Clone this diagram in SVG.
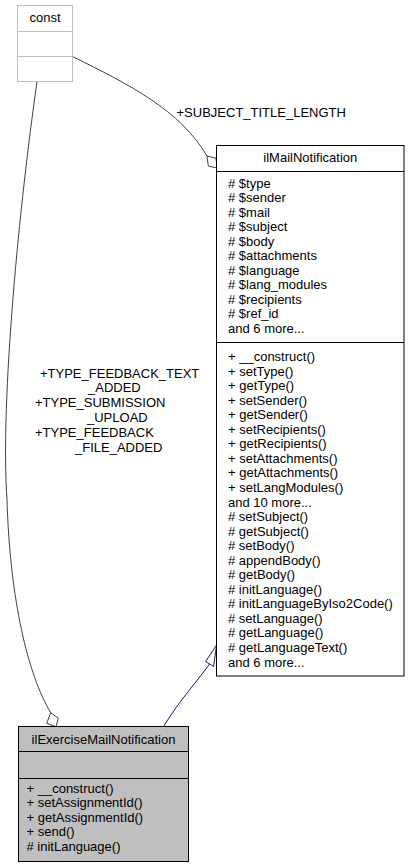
<svg xmlns="http://www.w3.org/2000/svg" width="409" height="868" viewBox="0 0 409 868">
<style>
text{font-family:"Liberation Sans",Arial,Helvetica,sans-serif;font-size:13px;fill:#000}
.c{text-anchor:middle}
.box{fill:#fff;stroke:#000;stroke-width:1}
.gbox{fill:#bfbfbf;stroke:#000;stroke-width:1}
.lbox{fill:#fff;stroke:#bfbfbf;stroke-width:1}
.edge{fill:none;stroke:#404040;stroke-width:1}
.inh{fill:none;stroke:#191970;stroke-width:1}
</style>
<rect width="409" height="868" fill="#fff"/>
<g id="connectors">
  <path class="edge" d="M72.5,56.5 C130,85 180,110 207,156"/>
  <polygon class="edge" points="207,156 216,158.3 217,168 208.3,166"/>
  <path class="edge" d="M37,82 C20,200 0,400 7,500 C10,600 28,675 50.7,712.7"/>
  <polygon class="edge" points="50.7,712.7 58.3,718.3 56,726.7 46.7,723.3"/>
  <path class="inh" d="M163.3,726.7 C180,700 198,680 209.6,664"/>
  <polygon class="inh" points="216.6,645 205.6,661.5 213.6,666.5"/>
  <text x="176.5" y="117">+SUBJECT_TITLE_LENGTH</text>
  <text x="40" y="377.5">+TYPE_FEEDBACK_TEXT</text>
  <text x="88" y="392.3">_ADDED</text>
  <text x="35" y="407.1">+TYPE_SUBMISSION</text>
  <text x="87" y="421.9">_UPLOAD</text>
  <text x="35" y="436.7">+TYPE_FEEDBACK</text>
  <text x="75" y="451.5">_FILE_ADDED</text>
</g>
<g id="const">
  <rect class="lbox" x="17.5" y="5.5" width="55" height="76"/>
  <line class="lbox" x1="17.5" y1="31.5" x2="72.5" y2="31.5"/>
  <line class="lbox" x1="17.5" y1="56.5" x2="72.5" y2="56.5"/>
  <text class="c" x="45" y="21.5">const</text>
</g>
<g id="ilMailNotification">
  <rect class="box" x="216.5" y="145.5" width="187.5" height="530.5"/>
  <line class="box" x1="216.5" y1="171.5" x2="404" y2="171.5"/>
  <line class="box" x1="216.5" y1="342.5" x2="404" y2="342.5"/>
  <text class="c" x="310.3" y="162">ilMailNotification</text>
  <text x="228" y="187.5"># $type</text>
  <text x="228" y="202.05"># $sender</text>
  <text x="228" y="216.6"># $mail</text>
  <text x="228" y="231.15"># $subject</text>
  <text x="228" y="245.7"># $body</text>
  <text x="228" y="260.25"># $attachments</text>
  <text x="228" y="274.8"># $language</text>
  <text x="228" y="289.35"># $lang_modules</text>
  <text x="228" y="303.9"># $recipients</text>
  <text x="228" y="318.45"># $ref_id</text>
  <text x="228" y="333">and 6 more...</text>
  <text x="228" y="361">+ __construct()</text>
  <text x="228" y="375.55">+ setType()</text>
  <text x="228" y="390.1">+ getType()</text>
  <text x="228" y="404.65">+ setSender()</text>
  <text x="228" y="419.2">+ getSender()</text>
  <text x="228" y="433.75">+ setRecipients()</text>
  <text x="228" y="448.3">+ getRecipients()</text>
  <text x="228" y="462.85">+ setAttachments()</text>
  <text x="228" y="477.4">+ getAttachments()</text>
  <text x="228" y="491.95">+ setLangModules()</text>
  <text x="228" y="506.5">and 10 more...</text>
  <text x="228" y="521.05"># setSubject()</text>
  <text x="228" y="535.6"># getSubject()</text>
  <text x="228" y="550.15"># setBody()</text>
  <text x="228" y="564.7"># appendBody()</text>
  <text x="228" y="579.25"># getBody()</text>
  <text x="228" y="593.8"># initLanguage()</text>
  <text x="228" y="608.35"># initLanguageByIso2Code()</text>
  <text x="228" y="622.9"># setLanguage()</text>
  <text x="228" y="637.45"># getLanguage()</text>
  <text x="228" y="652"># getLanguageText()</text>
  <text x="228" y="666.55">and 6 more...</text>
</g>
<g id="ilExerciseMailNotification">
  <rect class="gbox" x="18.5" y="726.5" width="170" height="135"/>
  <line class="gbox" x1="18.5" y1="751.5" x2="188.5" y2="751.5"/>
  <line class="gbox" x1="18.5" y1="778.5" x2="188.5" y2="778.5"/>
  <text class="c" x="103.5" y="743.5">ilExerciseMailNotification</text>
  <text x="26.5" y="792.5">+ __construct()</text>
  <text x="26.5" y="807">+ setAssignmentId()</text>
  <text x="26.5" y="821.5">+ getAssignmentId()</text>
  <text x="26.5" y="836">+ send()</text>
  <text x="26.5" y="850.5"># initLanguage()</text>
</g>
</svg>
